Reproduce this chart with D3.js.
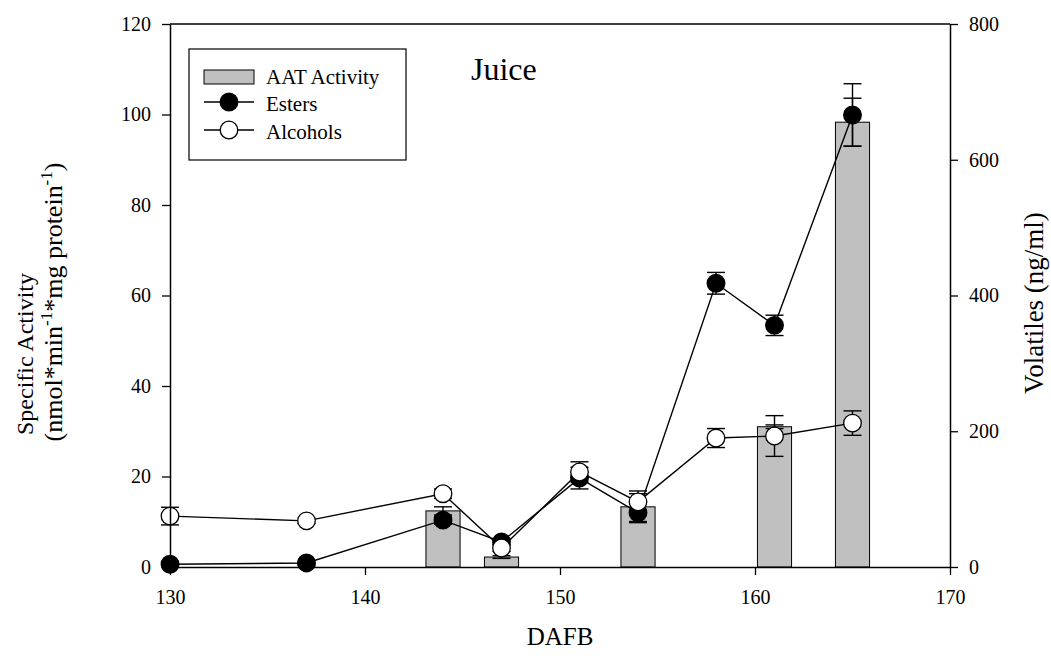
<!DOCTYPE html>
<html>
<head>
<meta charset="utf-8">
<script src="https://cdn.jsdelivr.net/npm/d3@7"></script>
<style>
  html, body { margin: 0; padding: 0; background: #fff; }
  svg { display: block; font-family: "Liberation Serif", "Times New Roman", serif; }
</style>
</head>
<body>
<svg id="chart" width="1051" height="658"></svg>
<script>
// Sampling days (days after full bloom)
const days = [130, 137, 144, 147, 151, 154, 158, 161, 165];
// Volatiles (ng/ml), right axis
const esters      = [4, 6, 69, 37, 131, 80, 418, 356, 666];
const estersErr   = [3, 3, 6, 5, 16, 13, 16, 15, 46];
const alcohols    = [75, 68, 108, 28, 140, 96, 190, 193, 212];
const alcoholsErr = [13, 4, 7, 5, 15, 12, 14, 30, 18];
// AAT specific activity, left axis
const aatDays = [144, 147, 154, 161, 165];
const aat     = [12.4, 2.2, 13.3, 31.0, 98.3];
const aatErr  = [0.9, 0.3, 3.5, 0.4, 5.3];
// Axis ticks
const xTicks = [130, 140, 150, 160, 170];
const leftTicks = [0, 20, 40, 60, 80, 100, 120];
const rightTicks = [0, 200, 400, 600, 800];

const svg = d3.select("#chart");
const L = 170, R = 950, T = 24, B = 567;

const x = d3.scaleLinear().domain([130, 170]).range([L, R]);
const yL = d3.scaleLinear().domain([0, 120]).range([B, T]);
const yR = d3.scaleLinear().domain([0, 800]).range([B, T]);

// Bars: AAT activity
const barW = x(131.75) - x(130);
const bars = aatDays.map((d, i) => ({ d, v: aat[i], e: aatErr[i] }));
svg.append("g").selectAll("rect").data(bars).join("rect")
  .attr("x", b => x(b.d) - barW / 2)
  .attr("y", b => yL(b.v))
  .attr("width", barW)
  .attr("height", b => yL(0) - yL(b.v))
  .attr("fill", "#c0c0c0")
  .attr("stroke", "#000")
  .attr("stroke-width", 1);

const capHalf = 9;
function errorBars(g, pts, sx, sy) {
  const eg = g.append("g").attr("stroke", "#000").attr("stroke-width", 1.4).attr("fill", "none");
  pts.forEach(p => {
    const cx = sx(p.d), y1 = sy(p.v + p.e), y0 = sy(p.v - p.e);
    eg.append("line").attr("x1", cx).attr("x2", cx).attr("y1", y1).attr("y2", y0);
    eg.append("line").attr("x1", cx - capHalf).attr("x2", cx + capHalf).attr("y1", y1).attr("y2", y1);
    eg.append("line").attr("x1", cx - capHalf).attr("x2", cx + capHalf).attr("y1", y0).attr("y2", y0);
  });
}
errorBars(svg, bars, x, yL);

// Volatile series
const estPts = days.map((d, i) => ({ d, v: esters[i], e: estersErr[i] }));
const alcPts = days.map((d, i) => ({ d, v: alcohols[i], e: alcoholsErr[i] }));
const line = d3.line().x(p => x(p.d)).y(p => yR(p.v));
const r = 8.8;

function series(pts, fill) {
  const g = svg.append("g");
  g.append("path").datum(pts).attr("d", line)
    .attr("fill", "none").attr("stroke", "#000").attr("stroke-width", 1.4);
  errorBars(g, pts, x, yR);
  g.selectAll("circle").data(pts).join("circle")
    .attr("cx", p => x(p.d)).attr("cy", p => yR(p.v)).attr("r", r)
    .attr("fill", fill).attr("stroke", "#000").attr("stroke-width", 1.3);
}
series(estPts, "#000");
series(alcPts, "#fff");

// Axes
const fontSize = 20;
const axB = svg.append("g").attr("transform", `translate(0,${B})`)
  .call(d3.axisBottom(x).tickValues(xTicks).tickFormat(d3.format("d")).tickSize(8).tickSizeOuter(0).tickPadding(15));
const axL = svg.append("g").attr("transform", `translate(${L},0)`)
  .call(d3.axisLeft(yL).tickValues(leftTicks).tickFormat(d3.format("d")).tickSize(8).tickSizeOuter(0).tickPadding(11));
const axR = svg.append("g").attr("transform", `translate(${R},0)`)
  .call(d3.axisRight(yR).tickValues(rightTicks).tickFormat(d3.format("d")).tickSize(8).tickSizeOuter(0).tickPadding(11));
[axB, axL, axR].forEach(a => {
  a.selectAll("path.domain").attr("stroke", "#000").attr("stroke-width", 1.5);
  a.selectAll(".tick line").attr("stroke", "#000").attr("stroke-width", 1.3);
  a.selectAll(".tick text").attr("fill", "#000")
    .style("font-family", "'Liberation Serif', serif").style("font-size", fontSize + "px");
});
// Top frame line
svg.append("line").attr("x1", L).attr("x2", R).attr("y1", T).attr("y2", T)
  .attr("stroke", "#000").attr("stroke-width", 1.5);

// Axis titles
svg.append("text").attr("x", x(150)).attr("y", 645).attr("text-anchor", "middle")
  .style("font-size", "25px").text("DAFB");

svg.append("text").attr("transform", "translate(1043,303) rotate(-90)")
  .attr("text-anchor", "middle").style("font-size", "27px").text("Volatiles (ng/ml)");

svg.append("text").attr("transform", "translate(33,354) rotate(-90)")
  .attr("text-anchor", "middle").style("font-size", "24px").text("Specific Activity");

const t2 = svg.append("text").attr("transform", "translate(62,302) rotate(-90)")
  .attr("text-anchor", "middle").style("font-size", "26px");
t2.append("tspan").text("(nmol*min");
t2.append("tspan").attr("dy", -10).style("font-size", "17px").text("-1");
t2.append("tspan").attr("dy", 10).text("*mg protein");
t2.append("tspan").attr("dy", -10).style("font-size", "17px").text("-1");
t2.append("tspan").attr("dy", 10).text(")");

// Panel label
svg.append("text").attr("x", 471).attr("y", 80).style("font-size", "32px").text("Juice");

// Legend
const lg = svg.append("g");
lg.append("rect").attr("x", 189).attr("y", 49).attr("width", 217).attr("height", 111)
  .attr("fill", "#fff").attr("stroke", "#000").attr("stroke-width", 1.2);
lg.append("rect").attr("x", 204).attr("y", 70).attr("width", 50).attr("height", 14)
  .attr("fill", "#c0c0c0").attr("stroke", "#000").attr("stroke-width", 1);
const legendItems = [
  { label: "Esters", fill: "#000", y: 102 },
  { label: "Alcohols", fill: "#fff", y: 130 }
];
lg.append("text").attr("x", 266).attr("y", 84).style("font-size", "21px").text("AAT Activity");
legendItems.forEach(it => {
  lg.append("line").attr("x1", 204).attr("x2", 254).attr("y1", it.y).attr("y2", it.y)
    .attr("stroke", "#000").attr("stroke-width", 1.4);
  lg.append("circle").attr("cx", 229).attr("cy", it.y).attr("r", r)
    .attr("fill", it.fill).attr("stroke", "#000").attr("stroke-width", 1.3);
  lg.append("text").attr("x", 266).attr("y", it.y + 9).style("font-size", "21px").text(it.label);
});
</script>
</body>
</html>
